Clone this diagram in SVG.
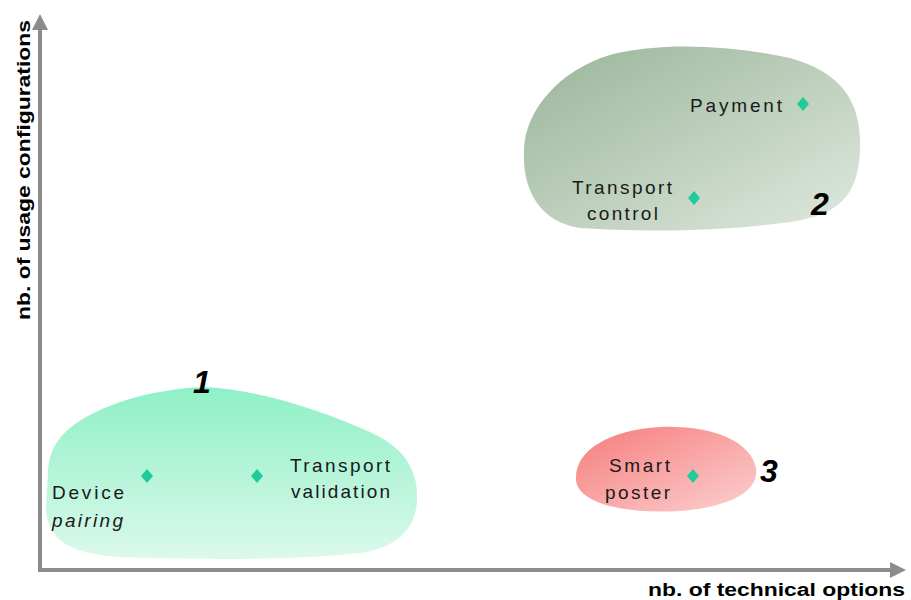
<svg xmlns="http://www.w3.org/2000/svg" width="911" height="600" viewBox="0 0 911 600">
<style>
.lbl{font-family:"Liberation Sans",Arial,sans-serif;font-size:19px;fill:#1a1a1a}
.ax{font-family:"Liberation Sans",Arial,sans-serif;font-size:18px;font-weight:bold;fill:#000}
.num{font-family:"Liberation Sans",Arial,sans-serif;font-size:32px;font-weight:bold;font-style:italic;fill:#000}
.dot{fill:#1fcc99}
.axis{stroke:#8c8c8c;stroke-width:4;fill:none}
</style>
<defs>
<linearGradient id="g1" x1="0" y1="0" x2="0" y2="1">
<stop offset="0" stop-color="#8ef0c6"/><stop offset="1" stop-color="#dcf9ec"/>
</linearGradient>
<linearGradient id="g2" x1="0" y1="0" x2="1" y2="1">
<stop offset="0" stop-color="#98b598"/><stop offset="1" stop-color="#e0e8e0"/>
</linearGradient>
<linearGradient id="g3" x1="0" y1="0" x2="1" y2="1">
<stop offset="0" stop-color="#f67c7c"/><stop offset="1" stop-color="#fcd0d0"/>
</linearGradient>
<marker id="arr" viewBox="0 0 10 10" refX="5" refY="5" markerWidth="4" markerHeight="4" orient="auto">
<path d="M0,0 L10,5 L0,10 z" fill="#8c8c8c"/>
</marker>
</defs>
<g id="connectors">
<path class="axis" d="M40,572 L40,22" marker-end="url(#arr)"/>
<path class="axis" d="M38,570 L898,570" marker-end="url(#arr)"/>
</g>
<g id="axis-labels">
<text class="ax" transform="translate(30,170) rotate(-90)" text-anchor="middle" textLength="300" lengthAdjust="spacingAndGlyphs">nb. of usage configurations</text>
<text class="ax" x="648" y="596" textLength="257" lengthAdjust="spacingAndGlyphs">nb. of technical options</text>
</g>
<g id="cluster1">
<path fill="url(#g1)" d="M48,470 C50,440 70,420 120,402 C150,392 180,388 205,387 C260,390 320,410 370,432 C405,448 418,470 417,500 C416,530 395,548 360,553 C300,560 200,560 120,557 C70,554 48,540 46,510 Z"/>
<text class="num" x="193" y="393">1</text>
<path class="dot" d="M147,469 L153,476 L147,483 L141,476 Z"/>
<path class="dot" d="M257,469 L263,476 L257,483 L251,476 Z"/>
<text class="lbl" x="52" y="499" textLength="72">Device</text>
<text class="lbl" x="52" y="527" font-style="italic" textLength="71">pairing</text>
<text class="lbl" x="290" y="472" textLength="100">Transport</text>
<text class="lbl" x="291" y="498" textLength="99">validation</text>
</g>
<g id="cluster2">
<path fill="url(#g2)" d="M524,150 C525,110 560,70 610,55 C660,42 730,45 790,58 C840,72 862,100 860,150 C858,195 840,215 790,222 C720,232 640,232 580,228 C540,222 522,190 524,150 Z"/>
<path class="dot" d="M803,97 L809,104 L803,111 L797,104 Z"/>
<path class="dot" d="M694,191 L700,198 L694,205 L688,198 Z"/>
<text class="lbl" x="690" y="112" textLength="92">Payment</text>
<text class="lbl" x="572" y="194" textLength="100">Transport</text>
<text class="lbl" x="587" y="220" textLength="71">control</text>
<text class="num" x="811" y="215">2</text>
</g>
<g id="cluster3">
<path fill="url(#g3)" d="M576,480 C574,450 610,430 660,427 C710,425 750,440 756,468 C760,495 720,508 680,511 C630,514 578,505 576,480 Z"/>
<path class="dot" d="M693,469 L699,476 L693,483 L687,476 Z"/>
<text class="lbl" x="609" y="472" textLength="61">Smart</text>
<text class="lbl" x="605" y="499" textLength="65">poster</text>
<text class="num" x="760" y="482">3</text>
</g>
</svg>
